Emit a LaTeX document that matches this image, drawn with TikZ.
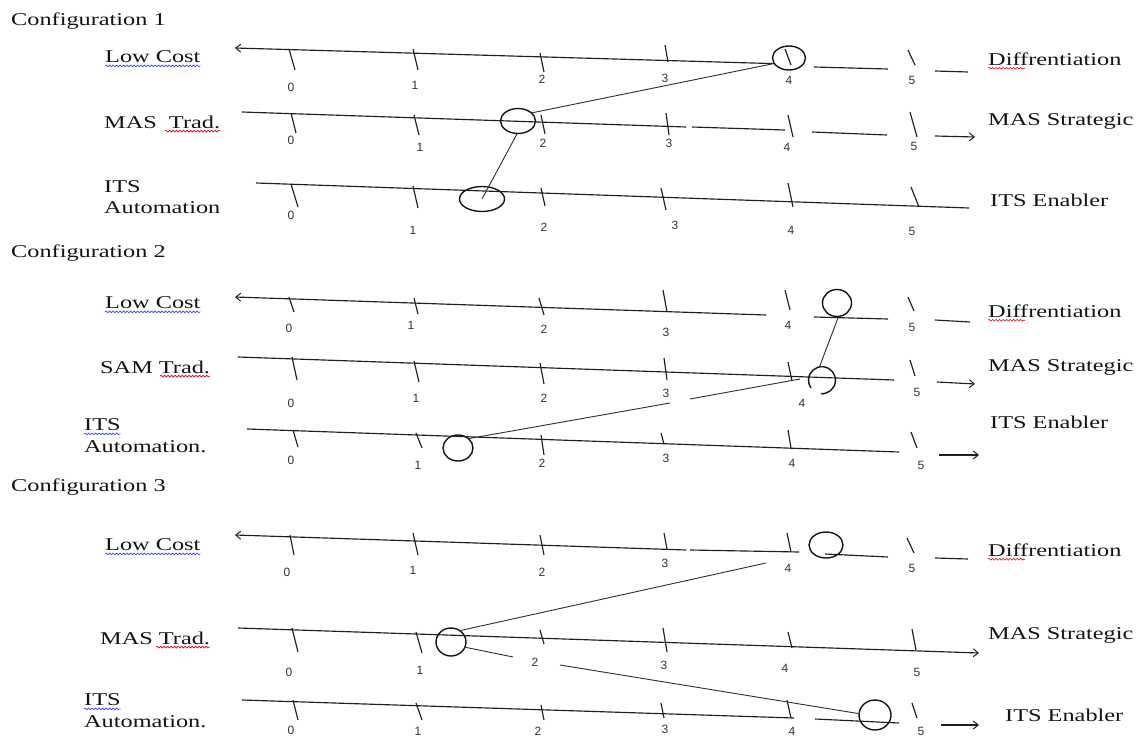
\documentclass[tikz,border=0pt]{standalone}
\usepackage{fontspec}
\setmainfont{Liberation Serif}[FakeStretch=1.35]
\newfontfamily\numfont{Liberation Sans}
\usetikzlibrary{arrows.meta,shapes.geometric,decorations.pathmorphing}
\begin{document}
\begin{tikzpicture}[x=1pt,y=-1pt,
  lab/.style={font=\fontsize{18}{20}\selectfont, text=black!92, inner sep=0pt, anchor=west},
  num/.style={font=\numfont\fontsize{12}{13}\selectfont, text=black!80, inner sep=0pt},
  axis/.style={line width=1.15pt, draw=black!88},
  tickline/.style={line width=1.15pt, draw=black!88},
  conn/.style={line width=0.9pt, draw=black!82},
  ring/.style={ellipse, draw=black!92, line width=1.4pt, inner sep=0pt},
  barb/.tip={Straight Barb[length=5pt,width=8pt,line width=1pt]},
  wavyblue/.style={draw=blue!75!white, line width=0.6pt, decorate, decoration={snake, amplitude=0.9pt, segment length=3.5pt}},
  wavyred/.style={draw=red!85!black, line width=0.6pt, decorate, decoration={snake, amplitude=0.9pt, segment length=3.5pt}}
]
\fill[white] (0,0) rectangle (1140,738);
\useasboundingbox (0,0) rectangle (1140,738);

% ================= Configuration 1 =================
\node[lab] (t1) at (11,21) {Configuration 1};
% Low Cost row
\node[lab] (lc1) at (105,57) {Low Cost};
\node[lab] (d1) at (988,59) {Diffrentiation};
\node[ring, minimum width=33pt, minimum height=24pt] (c1a) at (789,58) {};
\coordinate (lc1s) at (235,48);
\draw[axis, barb-] (lc1s) -- (c1a.200);
\coordinate (lc1d1) at (814,67); \coordinate (lc1d2) at (888,69);
\coordinate (lc1d3) at (935,71); \coordinate (lc1d4) at (968,72);
\draw[axis] (lc1d1) -- (lc1d2);
\draw[axis] (lc1d3) -- (lc1d4);
\foreach \a/\b/\c/\d in {289/49/295/70, 413/49/418/70, 540/53/544/72, 665/45/668/62, 785/49/791/65, 908/50/915/65}
  \draw[tickline] (\a,\b) -- (\c,\d);
\foreach \x/\y/\t in {291/87/0, 415/85/1, 542/79/2, 665/78/3, 789/80/4, 912/80/5}
  \node[num, name=n1a\t] at (\x,\y) {\t};
% MAS row
\node[lab] (m1) at (104,122) {MAS\ \ Trad.};
\node[lab] (s1) at (988,121) {MAS Strategic};
\node[ring, minimum width=35pt, minimum height=25pt] (c1b) at (518,121) {};
\coordinate (m1s) at (242,112); \coordinate (m1e) at (686,127);
\coordinate (m1f) at (692,127); \coordinate (m1g) at (785,130);
\coordinate (m1h) at (812,132); \coordinate (m1i) at (887,135);
\coordinate (m1j) at (935,136); \coordinate (m1k) at (975,137);
\draw[axis] (m1s) -- (m1e);
\draw[axis] (m1f) -- (m1g);
\draw[axis] (m1h) -- (m1i);
\draw[axis, -barb] (m1j) -- (m1k);
\foreach \a/\b/\c/\d in {291/113/296/133, 414/115/419/135, 541/115/545/134, 666/113/669/135, 788/115/793/137, 910/112/917/137}
  \draw[tickline] (\a,\b) -- (\c,\d);
\foreach \x/\y/\t in {291/140/0, 420/147/1, 543/143/2, 669/143/3, 787/147/4, 914/146/5}
  \node[num, name=n1b\t] at (\x,\y) {\t};
% ITS row
\node[lab] (i1) at (104,187) {ITS};
\node[lab] (a1) at (104,208) {Automation};
\node[lab] (e1) at (990,200) {ITS Enabler};
\node[ring, minimum width=45pt, minimum height=25pt] (c1c) at (482,199) {};
\coordinate (i1s) at (256,183); \coordinate (i1e) at (969,208);
\draw[axis] (i1s) -- (i1e);
\foreach \a/\b/\c/\d in {291/184/298/207, 413/186/418/208, 541/188/545/206, 661/188/666/210, 788/183/793/207, 911/187/919/207}
  \draw[tickline] (\a,\b) -- (\c,\d);
\foreach \x/\y/\t in {291/215/0, 413/230/1, 544/227/2, 675/225/3, 791/230/4, 912/231/5}
  \node[num, name=n1c\t] at (\x,\y) {\t};
% connectors
\draw[conn] (c1a.200) -- (c1b.30);
\draw[conn] (c1b.265) -- (c1c.center);
% underlines
\draw[wavyblue] ([yshift=-3pt]lc1.base west) -- ([yshift=-3pt]lc1.base east);
\draw[wavyred] ([xshift=61pt,yshift=-3pt]m1.base west) -- ([yshift=-3pt]m1.base east);
\draw[wavyred] ([yshift=-3pt]d1.base west) -- ++(37,0);

% ================= Configuration 2 =================
\node[lab] (t2) at (11,253) {Configuration 2};
% Low Cost row
\node[lab] (lc2) at (105,303) {Low Cost};
\node[lab] (d2) at (988,311) {Diffrentiation};
\node[ring, minimum width=29pt, minimum height=27pt] (c2a) at (837,303) {};
\coordinate (lc2s) at (235,297); \coordinate (lc2e) at (766,315);
\coordinate (lc2d1) at (814,317); \coordinate (lc2d2) at (888,319);
\coordinate (lc2d3) at (935,320); \coordinate (lc2d4) at (970,322);
\draw[axis, barb-] (lc2s) -- (lc2e);
\draw[axis] (lc2d1) -- (lc2d2);
\draw[axis] (lc2d3) -- (lc2d4);
\foreach \a/\b/\c/\d in {289/297/294/312, 414/298/418/314, 539/298/544/315, 663/290/667/312, 785/290/790/310, 908/297/914/311}
  \draw[tickline] (\a,\b) -- (\c,\d);
\foreach \x/\y/\t in {289/328/0, 411/325/1, 544/329/2, 666/332/3, 788/325/4, 912/327/5}
  \node[num, name=n2a\t] at (\x,\y) {\t};
% SAM row
\node[lab] (m2) at (100,367) {SAM Trad.};
\node[lab] (s2) at (988,367) {MAS Strategic};
\node[circle, draw=none, minimum size=27pt, inner sep=0pt] (c2b) at (822,380) {};
\draw[line width=1.4pt, draw=black!92] (c2b.265) arc[start angle=265, end angle=575, radius=13.5pt];
\coordinate (m2s) at (238,357); \coordinate (m2e) at (894,380);
\coordinate (m2j) at (937,382); \coordinate (m2k) at (975,384);
\draw[axis] (m2s) -- (m2e);
\draw[axis, -barb] (m2j) -- (m2k);
\foreach \a/\b/\c/\d in {292/357/297/380, 414/361/419/382, 540/363/544/384, 664/358/667/380, 788/362/792/381, 910/360/915/376}
  \draw[tickline] (\a,\b) -- (\c,\d);
\foreach \x/\y/\t in {291/403/0, 416/398/1, 544/398/2, 666/393/3, 802/403/4, 917/392/5}
  \node[num, name=n2b\t] at (\x,\y) {\t};
% ITS row
\node[lab] (i2) at (84,425) {ITS};
\node[lab] (a2) at (84,447) {Automation.};
\node[lab] (e2) at (990,422) {ITS Enabler};
\node[ring, minimum width=30pt, minimum height=26pt] (c2c) at (458,448) {};
\coordinate (i2s) at (247,429); \coordinate (i2e) at (899,452);
\coordinate (i2j) at (939,455); \coordinate (i2k) at (979,455);
\draw[axis] (i2s) -- (i2e);
\draw[axis, -barb] (i2j) -- (i2k);
\foreach \a/\b/\c/\d in {293/430/298/447, 416/433/422/448, 541/435/544/455, 661/433/664/444, 788/430/791/448, 911/432/917/448}
  \draw[tickline] (\a,\b) -- (\c,\d);
\foreach \x/\y/\t in {291/460/0, 418/465/1, 542/463/2, 666/458/3, 792/463/4, 921/465/5}
  \node[num, name=n2c\t] at (\x,\y) {\t};
% connectors
\draw[conn] (c2a.275) -- (c2b.100);
\coordinate (k2a) at (670,403); \coordinate (k2b) at (690,399); \coordinate (k2c) at (800,379);
\draw[conn] (c2c.40) -- (k2a);
\draw[conn] (k2b) -- (k2c);
% underlines
\draw[wavyblue] ([yshift=-3pt]lc2.base west) -- ([yshift=-3pt]lc2.base east);
\draw[wavyred] ([xshift=60pt,yshift=-3pt]m2.base west) -- ([yshift=-3pt]m2.base east);
\draw[wavyred] ([yshift=-3pt]d2.base west) -- ++(37,0);
\draw[wavyblue] ([yshift=-3pt]i2.base west) -- ([yshift=-3pt]i2.base east);

% ================= Configuration 3 =================
\node[lab] (t3) at (11,487) {Configuration 3};
% Low Cost row
\node[lab] (lc3) at (105,545) {Low Cost};
\node[lab] (d3) at (988,550) {Diffrentiation};
\node[ring, minimum width=34pt, minimum height=26pt] (c3a) at (826,545) {};
\coordinate (lc3s) at (235,535); \coordinate (lc3e) at (686,550);
\coordinate (lc3f) at (690,550); \coordinate (lc3g) at (799,552);
\coordinate (lc3d1) at (825,554); \coordinate (lc3d2) at (888,557);
\coordinate (lc3d3) at (935,558); \coordinate (lc3d4) at (968,559);
\draw[axis, barb-] (lc3s) -- (lc3e);
\draw[axis] (lc3f) -- (lc3g);
\draw[axis] (lc3d1) -- (lc3d2);
\draw[axis] (lc3d3) -- (lc3d4);
\foreach \a/\b/\c/\d in {290/535/294/555, 413/533/418/555, 540/535/544/555, 664/533/667/549, 787/533/791/552, 907/538/914/553}
  \draw[tickline] (\a,\b) -- (\c,\d);
\foreach \x/\y/\t in {287/572/0, 413/570/1, 542/572/2, 665/563/3, 788/568/4, 912/568/5}
  \node[num, name=n3a\t] at (\x,\y) {\t};
% MAS row
\node[lab] (m3) at (100,638) {MAS Trad.};
\node[lab] (s3) at (988,635) {MAS Strategic};
\node[ring, minimum width=30pt, minimum height=28pt] (c3b) at (451,642) {};
\coordinate (m3s) at (238,628); \coordinate (m3e) at (979,653);
\draw[axis, -barb] (m3s) -- (m3e);
\foreach \a/\b/\c/\d in {292/628/298/652, 416/632/422/653, 540/630/544/644, 663/628/667/652, 788/632/792/648, 912/629/916/650}
  \draw[tickline] (\a,\b) -- (\c,\d);
\foreach \x/\y/\t in {289/672/0, 420/670/1, 535/662/2, 664/665/3, 785/668/4, 917/672/5}
  \node[num, name=n3b\t] at (\x,\y) {\t};
% ITS row
\node[lab] (i3) at (84,700) {ITS};
\node[lab] (a3) at (84,722) {Automation.};
\node[lab] (e3) at (1005,715) {ITS Enabler};
\node[ring, minimum width=32pt, minimum height=30pt] (c3c) at (875,715) {};
\coordinate (i3s) at (242,700); \coordinate (i3e) at (794,718);
\coordinate (i3f) at (815,719); \coordinate (i3g) at (899,723);
\coordinate (i3j) at (941,725); \coordinate (i3k) at (979,725);
\draw[axis] (i3s) -- (i3e);
\draw[axis] (i3f) -- (i3g);
\draw[axis, -barb] (i3j) -- (i3k);
\foreach \a/\b/\c/\d in {293/700/298/720, 416/703/422/720, 541/705/544/720, 661/703/664/718, 787/700/791/718, 912/703/917/718}
  \draw[tickline] (\a,\b) -- (\c,\d);
\foreach \x/\y/\t in {291/730/0, 418/731/1, 538/731/2, 665/729/3, 792/731/4, 921/731/5}
  \node[num, name=n3c\t] at (\x,\y) {\t};
% connectors
\coordinate (k3a) at (766,563);
\draw[conn] (c3b.50) -- (k3a);
\coordinate (k3b) at (513,657); \coordinate (k3c) at (560,665);
\draw[conn] (c3b.-20) -- (k3b);
\draw[conn] (k3c) -- (c3c.175);
% underlines
\draw[wavyblue] ([yshift=-3pt]lc3.base west) -- ([yshift=-3pt]lc3.base east);
\draw[wavyred] ([xshift=56pt,yshift=-3pt]m3.base west) -- ([yshift=-3pt]m3.base east);
\draw[wavyred] ([yshift=-3pt]d3.base west) -- ++(37,0);
\draw[wavyblue] ([yshift=-3pt]i3.base west) -- ([yshift=-3pt]i3.base east);
\end{tikzpicture}
\end{document}
